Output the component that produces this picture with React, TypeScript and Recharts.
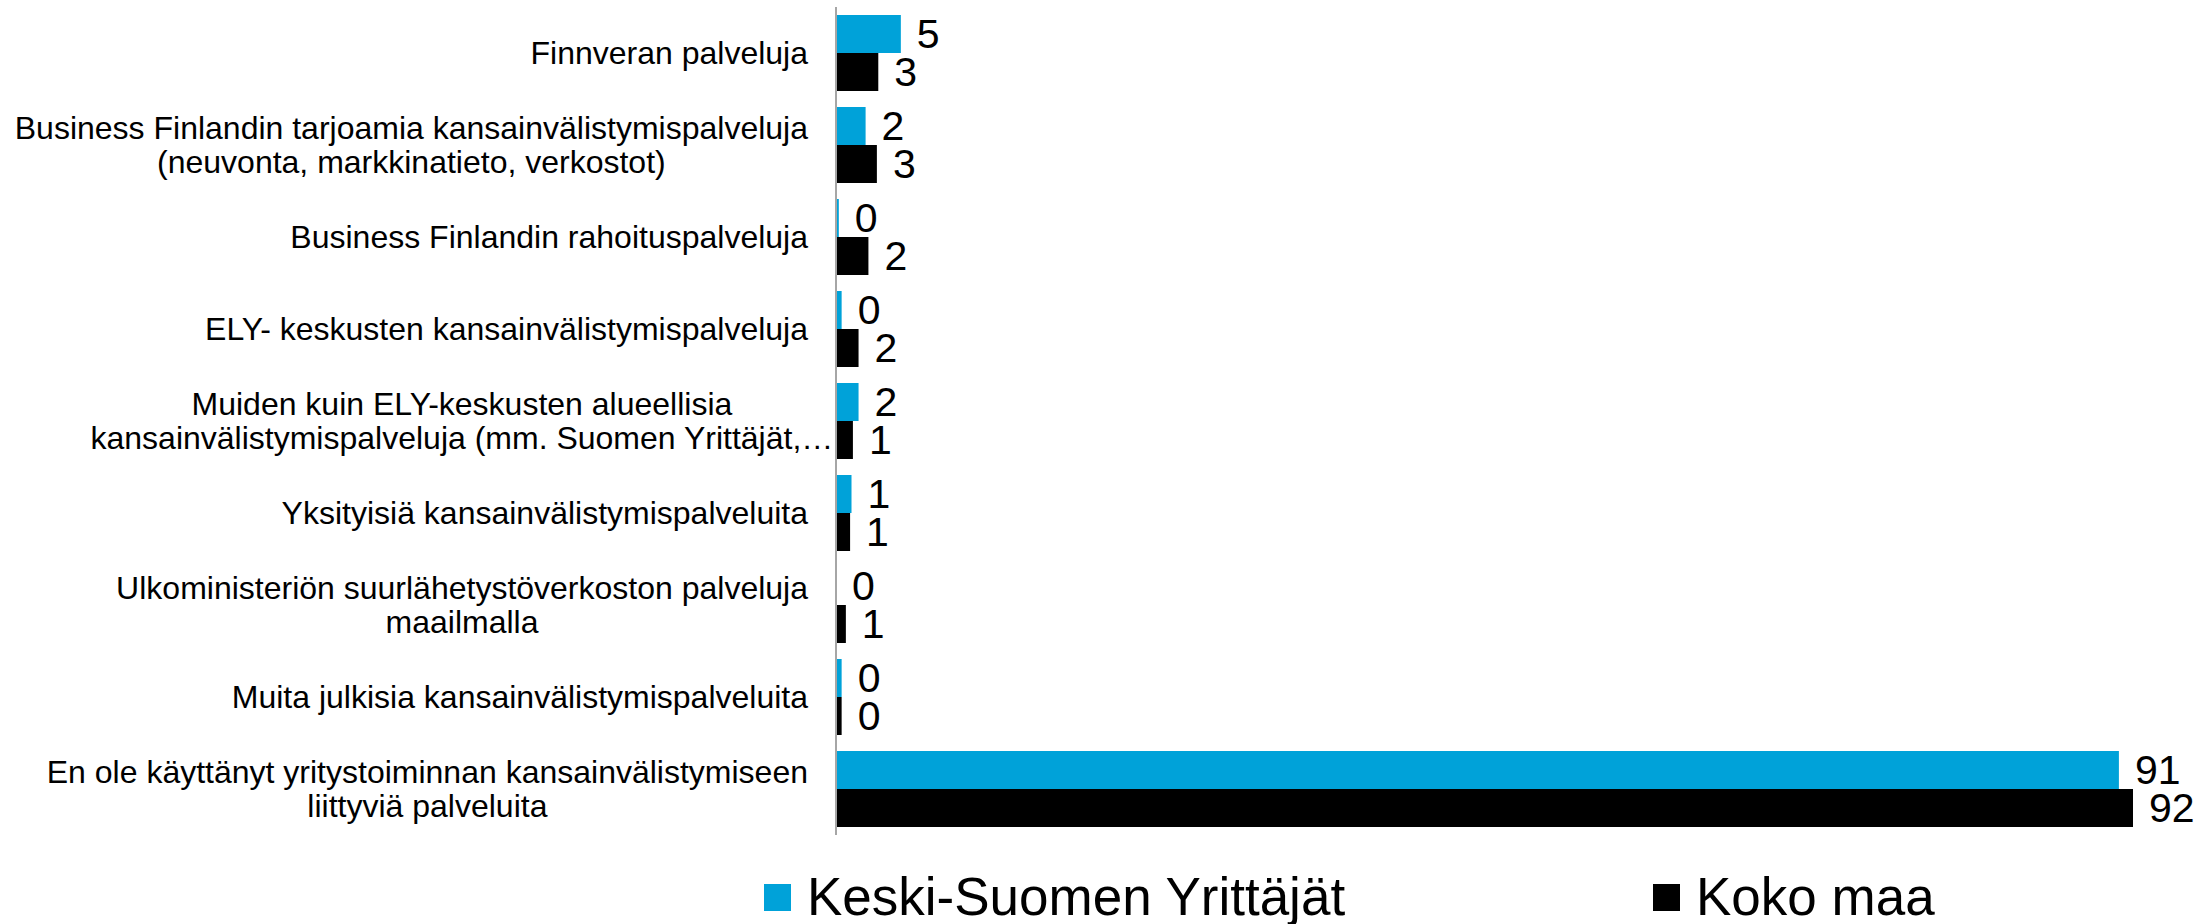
import React from 'react';
import { BarChart, Bar, XAxis, YAxis, Legend, LabelList } from 'recharts';

const FONT = '"Liberation Sans", Arial, sans-serif';

const categories = [
  'Finnveran palveluja',
  'Business Finlandin tarjoamia kansainvälistymispalveluja\n(neuvonta, markkinatieto, verkostot)',
  'Business Finlandin rahoituspalveluja',
  'ELY- keskusten kansainvälistymispalveluja',
  'Muiden kuin ELY-keskusten alueellisia\nkansainvälistymispalveluja (mm. Suomen Yrittäjät,…',
  'Yksityisiä kansainvälistymispalveluita',
  'Ulkoministeriön suurlähetystöverkoston palveluja\nmaailmalla',
  'Muita julkisia kansainvälistymispalveluita',
  'En ole käyttänyt yritystoiminnan kansainvälistymiseen\nliittyviä palveluita',
];
const keskiSuomi = [4.6, 2.1, 0.2, 0.4, 1.6, 1.1, 0, 0.4, 91];
const kokoMaa = [3.0, 2.9, 2.3, 1.6, 1.2, 1.0, 0.7, 0.4, 92];
const seriesNames = ['Keski-Suomen Yrittäjät', 'Koko maa'];
const colors = ['#00a2d9', '#000000'];

const data = categories.map((c, i) => ({ category: c, keski: keskiSuomi[i], koko: kokoMaa[i] }));

let ctx: CanvasRenderingContext2D | null = null;
function textWidth(s: string) {
  if (!ctx) ctx = document.createElement('canvas').getContext('2d');
  if (!ctx) return s.length * 16;
  ctx.font = '32px "Liberation Sans"';
  return ctx.measureText(s).width;
}

function CategoryTick({ x, y, payload }: any) {
  const lines = String(payload.value).split('\n');
  const maxW = Math.max(...lines.map(textWidth));
  // excel right-aligns the text as if the trailing ellipsis wasn't there
  const shift = lines.some(l => l.endsWith('…')) ? textWidth('…') * 0.8 : 0;
  const cx = x + shift - maxW / 2;
  return (
    <g>
      {lines.map((l, i) => (
        <text key={i} x={cx} y={y + (i - (lines.length - 1) / 2) * 34 + 11}
          textAnchor='middle' fontSize={32} fontFamily={FONT} fill='#000'>{l}</text>
      ))}
    </g>
  );
}

const valueText = (x: number, y: number, v: number, key?: string) => (
  <text key={key} x={x + 16} y={y} dominantBaseline='central'
    fontSize={41} fontFamily={FONT} fill='#000'>{Math.round(v)}</text>
);

function KeskiLabel({ x, y, width, height, value }: any) {
  return valueText(Number(x) + Math.max(0, Number(width) || 0), Number(y) + Number(height) / 2, Number(value));
}

// recharts drops zero-width bars, so the blue "0" is drawn from the black bar right below it
function KokoLabel({ x, y, width, height, value, index }: any) {
  const cy = Number(y) + Number(height) / 2;
  const out = [valueText(Number(x) + Math.max(0, Number(width) || 0), cy, Number(value), 'k')];
  if (keskiSuomi[index] === 0) out.push(valueText(Number(x), cy - Number(height), 0, 'z'));
  return <g>{out}</g>;
}

const legendLeft = [764, 1653];
function LegendContent({ payload }: any) {
  return (
    <div style={{ position: 'relative', height: 60, fontFamily: FONT }}>
      {(payload || []).map((p: any, i: number) => (
        <div key={i} style={{ position: 'absolute', left: legendLeft[i], top: 0, display: 'flex',
          alignItems: 'center', fontSize: 53, lineHeight: '60px', color: '#000', whiteSpace: 'nowrap' }}>
          <span style={{ width: 27, height: 27, background: p.color, marginRight: 16, display: 'inline-block' }} />
          <span>{p.value}</span>
        </div>
      ))}
    </div>
  );
}

export default function App() {
  return (
    <div style={{ position: 'absolute', left: 0, top: 0, width: 2210, height: 924, background: '#fff', fontFamily: FONT }}>
      <BarChart width={2210} height={924} data={data} layout='vertical'
        margin={{ top: 7, right: 77, bottom: 89, left: 0 }} barCategoryGap={8} barGap={0}>
        <XAxis type='number' domain={[0, 92]} hide />
        <YAxis type='category' dataKey='category' width={836} interval={0}
          axisLine={{ stroke: '#a6a6a6', strokeWidth: 2 }} tickLine={false} tickSize={0} tickMargin={28}
          tick={<CategoryTick />} />
        <Legend layout='horizontal' verticalAlign='middle' align='center'
          wrapperStyle={{ top: 867, left: 0, width: 2210 }} content={<LegendContent />} />
        <Bar dataKey='keski' name={seriesNames[0]} fill={colors[0]} isAnimationActive={false}>
          <LabelList dataKey='keski' content={<KeskiLabel />} />
        </Bar>
        <Bar dataKey='koko' name={seriesNames[1]} fill={colors[1]} isAnimationActive={false}>
          <LabelList dataKey='koko' content={<KokoLabel />} />
        </Bar>
      </BarChart>
    </div>
  );
}
